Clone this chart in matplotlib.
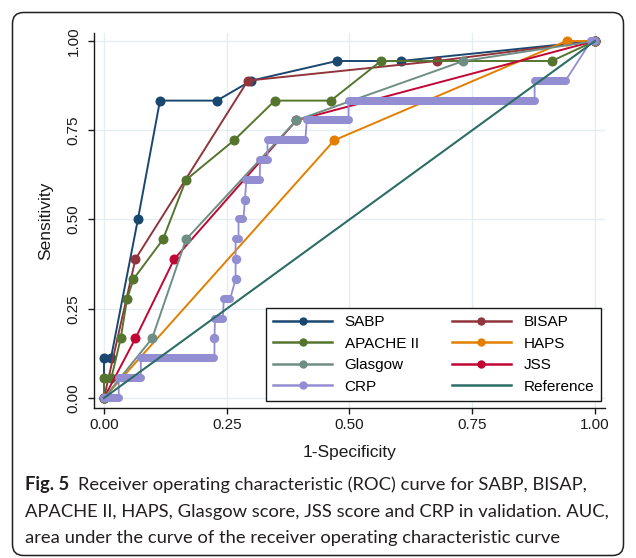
import matplotlib
matplotlib.use('Agg')
import matplotlib.pyplot as plt
from matplotlib.patches import FancyBboxPatch
from matplotlib.lines import Line2D
from matplotlib.transforms import IdentityTransform

# ---------------- data ----------------
sabp_x = [0, 0, 0.014, 0.069, 0.114, 0.23, 0.30, 0.474, 0.605, 1.0]
sabp_y = [0, 0.111, 0.111, 0.5, 0.833, 0.833, 0.889, 0.944, 0.944, 1.0]

bisap_x = [0, 0.064, 0.293, 0.678, 1.0]
bisap_y = [0, 0.389, 0.889, 0.944, 1.0]

apache_x = [0, 0, 0.015, 0.034, 0.047, 0.06, 0.12, 0.167, 0.265, 0.348, 0.462, 0.564, 0.912, 1.0]
apache_y = [0, 0.056, 0.056, 0.167, 0.278, 0.333, 0.444, 0.611, 0.722, 0.833, 0.833, 0.944, 0.944, 1.0]

haps_x = [0, 0.469, 0.942, 1.0]
haps_y = [0, 0.722, 1.0, 1.0]

glasgow_x = [0, 0.098, 0.167, 0.392, 0.732, 1.0]
glasgow_y = [0, 0.167, 0.444, 0.778, 0.944, 1.0]

jss_x = [0, 0.064, 0.143, 0.392, 1.0]
jss_y = [0, 0.167, 0.389, 0.778, 1.0]

# CRP: step levels (sensitivity) with first / last 1-specificity on that level
crp_y = [0, 0.056, 0.111, 0.167, 0.222, 0.278, 0.333, 0.389, 0.444, 0.5,
         0.556, 0.611, 0.667, 0.722, 0.778, 0.833, 0.889, 1.0]
crp_x_first = [0.0, 0.03, 0.075, 0.225, 0.226, 0.244, 0.268, 0.268, 0.268, 0.274,
               0.287, 0.29, 0.318, 0.333, 0.413, 0.498, 0.877, 0.992]
crp_x_last = [0.03, 0.075, 0.225, 0.225, 0.242, 0.257, 0.268, 0.268, 0.274, 0.284,
              0.287, 0.317, 0.333, 0.41, 0.498, 0.877, 0.94, 1.0]

ref_x = [0, 1]
ref_y = [0, 1]

xticks = [0.00, 0.25, 0.50, 0.75, 1.00]
yticks = [0.00, 0.25, 0.50, 0.75, 1.00]
tick_labels = ['0.00', '0.25', '0.50', '0.75', '1.00']

names = ['SABP', 'BISAP', 'APACHE II', 'HAPS', 'Glasgow', 'JSS', 'CRP', 'Reference']
colors = {'SABP': '#1a476f', 'BISAP': '#90353b', 'APACHE II': '#55752f',
          'HAPS': '#e37e00', 'Glasgow': '#6e8e84', 'JSS': '#c10534',
          'CRP': '#938dd2', 'Reference': '#2d6d66'}

caption_bold = 'Fig. 5'
caption_lines = ['Receiver operating characteristic (ROC) curve for SABP, BISAP,',
                 'APACHE II, HAPS, Glasgow score, JSS score and CRP in validation. AUC,',
                 'area under the curve of the receiver operating characteristic curve']

# ---------------- figure ----------------
W, H = 636, 558
fig = plt.figure(figsize=(W / 100, H / 100), dpi=100)
fig.patch.set_facecolor('white')

# outer rounded frame
frame = FancyBboxPatch((12.5, 2.5), 611, 543, boxstyle='round,pad=0,rounding_size=11',
                       transform=IdentityTransform(), facecolor='none',
                       edgecolor='#231f20', lw=1.1, zorder=0)
fig.patches.append(frame)

# axes placement (pixel-based)
ax_l, ax_r, ax_t, ax_b = 94, 605, 33, 408
ax = fig.add_axes([ax_l / W, 1 - ax_b / H, (ax_r - ax_l) / W, (ax_b - ax_t) / H])
x0px, x1px = 104, 595
y0px, y1px = 398, 41
sx = (x1px - x0px)
sy = (y0px - y1px)
ax.set_xlim((ax_l - x0px) / sx, (ax_r - x0px) / sx)
ax.set_ylim((y0px - ax_b) / sy, (y0px - ax_t) / sy)

for s in ['top', 'right']:
    ax.spines[s].set_visible(False)
for s in ['left', 'bottom']:
    ax.spines[s].set_color('#1a1a1a')
    ax.spines[s].set_linewidth(1.0)

ax.set_xticks(xticks)
ax.set_yticks(yticks)
ax.set_xticklabels(tick_labels)
ax.set_yticklabels(tick_labels, rotation=90, va='center')
ax.tick_params(axis='both', length=4.5, width=1.0, color='#1a1a1a', labelsize=11,
               labelcolor='#1a1a1a')
ax.tick_params(axis='x', pad=3)
ax.tick_params(axis='y', pad=5)
for lab in ax.get_xticklabels() + ax.get_yticklabels():
    lab.set_family('Liberation Sans')
ax.grid(True, color='#e4eef1', lw=1.0)
ax.set_axisbelow(True)

ax.set_xlabel('1-Specificity', family='Liberation Sans', fontsize=12.5, color='#1a1a1a', labelpad=9)
ax.set_ylabel('Sensitivity', family='Liberation Sans', fontsize=12.5, color='#1a1a1a', labelpad=10)

lw = 1.4
ms = 6.2
series = [('SABP', sabp_x, sabp_y), ('BISAP', bisap_x, bisap_y),
          ('APACHE II', apache_x, apache_y), ('HAPS', haps_x, haps_y),
          ('JSS', jss_x, jss_y), ('Glasgow', glasgow_x, glasgow_y)]
for i, (nm, xs, ys) in enumerate(series):
    ax.plot(xs, ys, color=colors[nm], lw=lw, marker='o', ms=ms, zorder=3 + i * 0.1)

# CRP step path
crp_c = colors['CRP']
px, py = [], []
for y, xa, xb in zip(crp_y, crp_x_first, crp_x_last):
    px += [xa, xb]
    py += [y, y]
ax.plot(px, py, color=crp_c, lw=1.3, zorder=4)
for y, xa, xb in zip(crp_y, crp_x_first, crp_x_last):
    if xb > xa:
        ax.plot([xa, xb], [y, y], color=crp_c, lw=5.8, solid_capstyle='round', zorder=4.1)
    else:
        ax.plot([xa], [y], color=crp_c, marker='o', ms=5.8, ls='none', zorder=4.1)

ax.plot(ref_x, ref_y, color=colors['Reference'], lw=1.5, zorder=4.5)

# legend
order = ['SABP', 'APACHE II', 'Glasgow', 'CRP', 'BISAP', 'HAPS', 'JSS', 'Reference']
handles = []
for nm in order:
    if nm == 'Reference':
        handles.append(Line2D([], [], color=colors[nm], lw=1.8))
    else:
        handles.append(Line2D([], [], color=colors[nm], lw=1.8, marker='o', ms=5))
lx0 = (266 - ax_l) / (ax_r - ax_l)
lw_ = (601 - 266) / (ax_r - ax_l)
ly1 = (ax_b - 308) / (ax_b - ax_t)
leg = ax.legend(handles, order, ncol=2, loc='upper left',
                bbox_to_anchor=(lx0, ly1 - 0.3, lw_, 0.3), mode='expand',
                prop={'family': 'Liberation Sans', 'size': 11},
                frameon=True, fancybox=False, edgecolor='#1a1a1a', framealpha=1,
                handlelength=3.9, handletextpad=0.8, labelspacing=0.5,
                borderpad=0.45, borderaxespad=0, columnspacing=1.0)
leg.get_frame().set_linewidth(1.0)
leg.set_zorder(10)

# caption
cap_family = 'Lato'
fs = 13
renderer = fig.canvas.get_renderer()
probe = fig.text(0, 0, caption_lines[1], fontsize=fs, family=cap_family)
wpx = probe.get_window_extent(renderer).width
probe.remove()
fs = fs * 583 / wpx
left = 25
baselines = [490, 516.5, 543]
tb = fig.text(left / W, 1 - baselines[0] / H, caption_bold, fontsize=fs, fontweight='bold',
              family=cap_family, va='baseline', color='#231f20')
bw = tb.get_window_extent(renderer).x1
fig.text((bw + 9) / W, 1 - baselines[0] / H, caption_lines[0], fontsize=fs,
         family=cap_family, va='baseline', color='#231f20')
for ln, b in zip(caption_lines[1:], baselines[1:]):
    fig.text(left / W, 1 - b / H, ln, fontsize=fs, family=cap_family, va='baseline',
             color='#231f20')

fig.savefig('out.png', dpi=100)
